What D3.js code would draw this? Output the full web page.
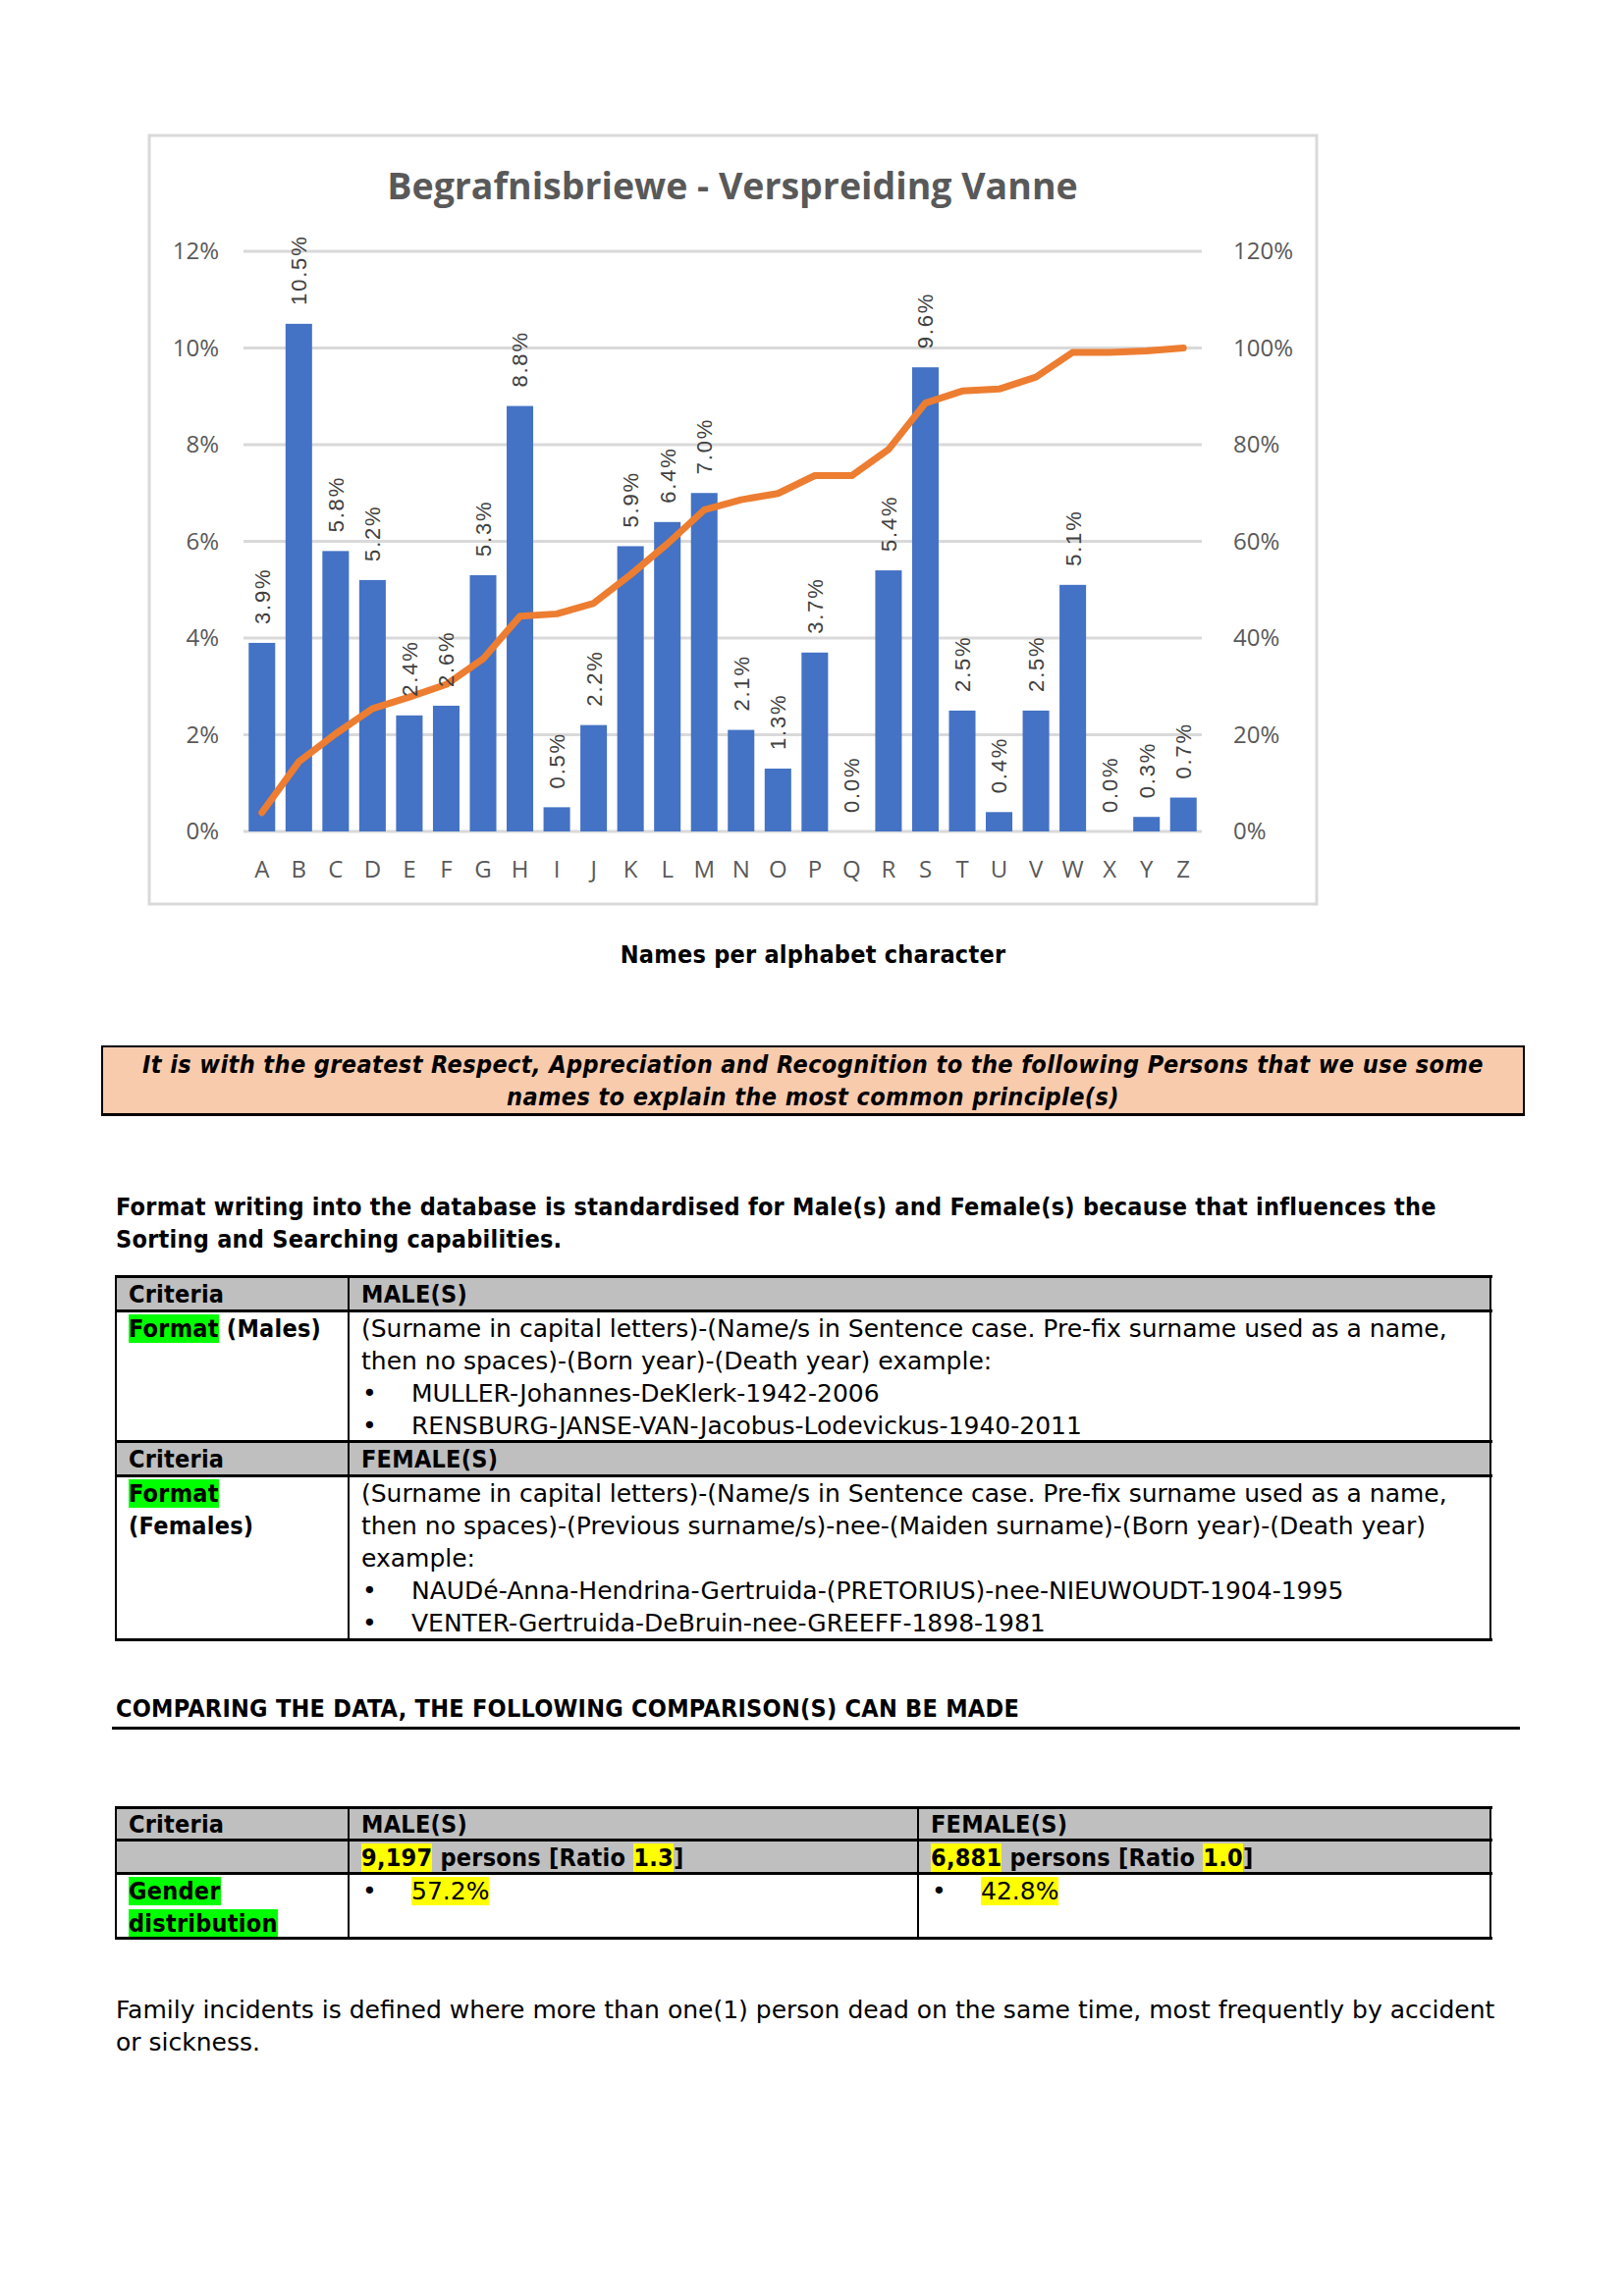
<!DOCTYPE html>
<html><head><meta charset="utf-8">
<script src="https://cdn.jsdelivr.net/npm/d3@7"></script>
<style>
body{margin:0;background:#fff;width:1654px;height:2339px;position:relative;overflow:hidden;
 font-family:"DejaVu Sans",sans-serif;font-size:25px;line-height:33px;color:#000;}
.abs{position:absolute;white-space:nowrap;}
.bd{font-family:"DejaVu Sans Condensed","DejaVu Sans",sans-serif;font-weight:bold;letter-spacing:0.25px;}
.g{background:#00FF00;}
.y{background:#FFFF00;}
.li{position:relative;padding-left:51px;}
.bu{position:absolute;left:1px;top:0;}
</style></head>
<body>
<svg id="chart" class="abs" style="left:0;top:0" width="1654" height="940"></svg>
<div id="doc"></div>
<script>
// ---------- chart data ----------
const letters = ["A","B","C","D","E","F","G","H","I","J","K","L","M","N","O","P","Q","R","S","T","U","V","W","X","Y","Z"];
const share = [3.9,10.5,5.8,5.2,2.4,2.6,5.3,8.8,0.5,2.2,5.9,6.4,7.0,2.1,1.3,3.7,0.0,5.4,9.6,2.5,0.4,2.5,5.1,0.0,0.3,0.7];
const cumulative = [3.9,14.4,20.2,25.4,27.8,30.4,35.7,44.5,45.0,47.2,53.1,59.5,66.5,68.6,69.9,73.6,73.6,79.0,88.6,91.1,91.5,94.0,99.1,99.1,99.4,100.0];
const leftTicks = [0,2,4,6,8,10,12];
const rightTicks = [0,20,40,60,80,100,120];
const chartTitle = "Begrafnisbriewe - Verspreiding Vanne";

const svg = d3.select("#chart");
// chart frame
svg.append("rect").attr("x",152).attr("y",138).attr("width",1189).attr("height",783)
  .attr("fill","#fff").attr("stroke","#d9d9d9").attr("stroke-width",3);

const x = d3.scaleBand().domain(letters).range([248,1224]).paddingInner(0.28).paddingOuter(0.14);
const yL = d3.scaleLinear().domain([0,12]).range([847,256]);
const yR = d3.scaleLinear().domain([0,120]).range([847,256]);

svg.append("text").attr("x",746).attr("y",203).attr("text-anchor","middle")
  .attr("font-family","Open Sans").attr("font-weight",700).attr("font-size",37.5)
  .attr("fill","#595959").text(chartTitle);

// gridlines
svg.append("g").selectAll("line").data(leftTicks).join("line")
  .attr("x1",248).attr("x2",1224).attr("y1",d=>yL(d)).attr("y2",d=>yL(d))
  .attr("stroke","#d9d9d9").attr("stroke-width",3);

// axes
const axL = svg.append("g").attr("transform","translate(248,0)")
  .call(d3.axisLeft(yL).tickValues(leftTicks).tickFormat(d=>d+"%").tickSize(0).tickPadding(25));
const axR = svg.append("g").attr("transform","translate(1224,0)")
  .call(d3.axisRight(yR).tickValues(rightTicks).tickFormat(d=>d+"%").tickSize(0).tickPadding(32));
const axB = svg.append("g").attr("transform","translate(0,847)")
  .call(d3.axisBottom(x).tickSize(0).tickPadding(30));
[axL,axR,axB].forEach(a=>{
  a.select(".domain").remove();
  a.selectAll("text").attr("font-family","Open Sans").attr("font-size",24).attr("fill","#595959");
});

// bars
svg.append("g").selectAll("rect").data(letters).join("rect")
  .attr("x",d=>x(d)).attr("width",x.bandwidth())
  .attr("y",(d,i)=>yL(share[i])).attr("height",(d,i)=>yL(0)-yL(share[i]))
  .attr("fill","#4472C4");

// cumulative line
const line = d3.line().x((d,i)=>x(letters[i])+x.bandwidth()/2).y(d=>yR(d));
svg.append("path").datum(cumulative).attr("d",line).attr("fill","none")
  .attr("stroke","#ED7D31").attr("stroke-width",7).attr("stroke-linejoin","round").attr("stroke-linecap","round");

// data labels
svg.append("g").selectAll("text").data(letters).join("text")
  .attr("transform",(d,i)=>`translate(${x(d)+x.bandwidth()/2},${yL(share[i])-19}) rotate(-90)`)
  .attr("dy","0.36em").attr("font-family","Liberation Sans").attr("font-size",22)
  .attr("letter-spacing",1.8).attr("fill","#404040")
  .text((d,i)=>share[i].toFixed(1)+"%");

// ---------- document part ----------
const doc = d3.select("#doc");
function block(left, top, html, style, cls){
  return doc.append("div").attr("class","abs "+(cls||"")).attr("style",`left:${left}px;top:${top}px;${style||""}`).html(html);
}
block(0,956,"Names per alphabet character","width:1656px;text-align:center;","bd");

block(103,1065,"It is with the greatest Respect, Appreciation and Recognition to the following Persons that we use some<br>names to explain the most common principle(s)",
  "width:1450px;height:72px;box-sizing:border-box;border:2px solid #000;border-bottom-width:3px;background:#F8CBAD;text-align:center;font-style:italic;padding-top:1px;letter-spacing:0.4px;","bd");

block(118,1213,"Format writing into the database is standardised for Male(s) and Female(s) because that influences the<br>Sorting and Searching capabilities.","","bd");

function table(cols, rows, grayRows, cells){
  grayRows.forEach(r=>{
    doc.append("div").attr("class","abs").attr("style",`left:${cols[0]}px;top:${rows[r]}px;width:${cols[cols.length-1]-cols[0]}px;height:${rows[r+1]-rows[r]}px;background:#BFBFBF`);
  });
  cells.forEach(c=>{
    const top = c.mid ? rows[c.r] + (rows[c.r+1]-rows[c.r])/2 - 16.5 + 1 : rows[c.r]+2;
    block(cols[c.c]+13, top, c.html, "", c.bold ? "bd" : "");
  });
  rows.forEach(yv=>{
    doc.append("div").attr("class","abs").attr("style",`left:${cols[0]-1}px;top:${yv-1}px;width:${cols[cols.length-1]-cols[0]+3}px;height:3px;background:#000`);
  });
  cols.forEach(xv=>{
    doc.append("div").attr("class","abs").attr("style",`left:${xv-1}px;top:${rows[0]}px;width:2px;height:${rows[rows.length-1]-rows[0]}px;background:#000`);
  });
}
const li = t => `<div class="li"><span class="bu">•</span>${t}</div>`;

table([118,355,1518],[1300,1335,1468,1503,1670],[0,2],[
  {r:0,c:0,mid:true,html:"Criteria",bold:true},
  {r:0,c:1,mid:true,html:"MALE(S)",bold:true},
  {r:1,c:0,html:'<span class="g">Format</span> (Males)',bold:true},
  {r:1,c:1,html:"(Surname in capital letters)-(Name/s in Sentence case. Pre-fix surname used as a name,<br>then no spaces)-(Born year)-(Death year) example:"+li("MULLER-Johannes-DeKlerk-1942-2006")+li("RENSBURG-JANSE-VAN-Jacobus-Lodevickus-1940-2011")},
  {r:2,c:0,mid:true,html:"Criteria",bold:true},
  {r:2,c:1,mid:true,html:"FEMALE(S)",bold:true},
  {r:3,c:0,html:'<span class="g">Format</span><br>(Females)',bold:true},
  {r:3,c:1,html:"(Surname in capital letters)-(Name/s in Sentence case. Pre-fix surname used as a name,<br>then no spaces)-(Previous surname/s)-nee-(Maiden surname)-(Born year)-(Death year)<br>example:"+li("NAUDé-Anna-Hendrina-Gertruida-(PRETORIUS)-nee-NIEUWOUDT-1904-1995")+li("VENTER-Gertruida-DeBruin-nee-GREEFF-1898-1981")}
]);

block(118,1724,"COMPARING THE DATA, THE FOLLOWING COMPARISON(S) CAN BE MADE","","bd");
doc.append("div").attr("class","abs").attr("style","left:114px;top:1759px;width:1434px;height:3px;background:#000");

table([118,355,935,1518],[1841,1874,1908,1974],[0,1],[
  {r:0,c:0,mid:true,html:"Criteria",bold:true},
  {r:0,c:1,mid:true,html:"MALE(S)",bold:true},
  {r:0,c:2,mid:true,html:"FEMALE(S)",bold:true},
  {r:1,c:1,mid:true,html:'<span class="y">9,197</span> persons [Ratio <span class="y">1.3</span>]',bold:true},
  {r:1,c:2,mid:true,html:'<span class="y">6,881</span> persons [Ratio <span class="y">1.0</span>]',bold:true},
  {r:2,c:0,html:'<span class="g">Gender</span><br><span class="g">distribution</span>',bold:true},
  {r:2,c:1,html:li('<span class="y">57.2%</span>')},
  {r:2,c:2,html:li('<span class="y">42.8%</span>')}
]);

block(118,2031,"Family incidents is defined where more than one(1) person dead on the same time, most frequently by accident<br>or sickness.");
</script>
</body></html>
